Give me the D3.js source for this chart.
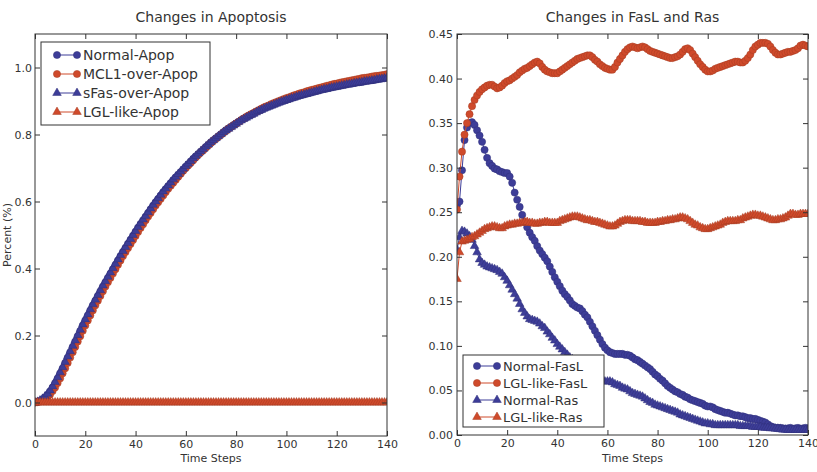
<!DOCTYPE html>
<html>
<head>
<meta charset="utf-8">
<script src="https://cdnjs.cloudflare.com/ajax/libs/d3/7.8.5/d3.min.js"></script>
<style>
body { margin: 0; background: #fff; }
svg { font-family: "DejaVu Sans", sans-serif; }
</style>
</head>
<body>
<svg class="chartSvg" width="817" height="472"></svg>
<script>
// time axis, one value per step
var timeSteps = d3.range(0, 141);
var xTicks = [0, 20, 40, 60, 80, 100, 120, 140];
var apopTicks = [0.0, 0.2, 0.4, 0.6, 0.8, 1.0];
var fasTicks = [0.00, 0.05, 0.10, 0.15, 0.20, 0.25, 0.30, 0.35, 0.40, 0.45];

// left panel: apoptosis
var normalApop = [0.000,0.002,0.005,0.009,0.015,0.023,0.033,0.045,0.058,0.072,
    0.087,0.102,0.118,0.134,0.150,0.166,0.182,0.198,0.214,0.230,
    0.245,0.260,0.275,0.290,0.304,0.318,0.332,0.346,0.359,0.372,
    0.385,0.398,0.411,0.424,0.437,0.450,0.462,0.474,0.486,0.498,
    0.510,0.522,0.533,0.544,0.555,0.566,0.577,0.588,0.598,0.608,
    0.618,0.628,0.637,0.646,0.655,0.664,0.672,0.680,0.688,0.696,
    0.704,0.712,0.720,0.728,0.735,0.742,0.749,0.756,0.763,0.770,
    0.777,0.783,0.789,0.795,0.801,0.807,0.813,0.818,0.823,0.828,
    0.833,0.838,0.843,0.847,0.851,0.855,0.859,0.863,0.867,0.871,
    0.874,0.878,0.881,0.884,0.887,0.890,0.893,0.896,0.899,0.901,
    0.904,0.906,0.909,0.911,0.914,0.916,0.918,0.920,0.922,0.924,
    0.926,0.928,0.930,0.932,0.934,0.936,0.937,0.939,0.941,0.942,
    0.944,0.945,0.947,0.948,0.950,0.951,0.952,0.954,0.955,0.956,
    0.957,0.959,0.960,0.961,0.962,0.963,0.965,0.966,0.967,0.968,
    0.970];
var mcl1Apop = [0.000,0.001,0.003,0.006,0.010,0.016,0.024,0.034,0.045,0.058,
    0.072,0.087,0.102,0.118,0.134,0.150,0.166,0.182,0.198,0.214,
    0.230,0.245,0.260,0.275,0.290,0.304,0.318,0.332,0.346,0.359,
    0.372,0.385,0.398,0.411,0.424,0.437,0.449,0.461,0.473,0.485,
    0.497,0.509,0.521,0.532,0.544,0.555,0.566,0.577,0.588,0.598,
    0.608,0.618,0.628,0.638,0.647,0.656,0.665,0.674,0.683,0.692,
    0.700,0.708,0.716,0.724,0.732,0.740,0.747,0.754,0.761,0.768,
    0.775,0.782,0.788,0.794,0.800,0.806,0.812,0.818,0.823,0.828,
    0.833,0.838,0.843,0.848,0.853,0.857,0.861,0.865,0.869,0.873,
    0.877,0.881,0.884,0.887,0.891,0.894,0.897,0.900,0.903,0.906,
    0.909,0.911,0.914,0.917,0.919,0.922,0.924,0.926,0.929,0.931,
    0.933,0.935,0.937,0.939,0.941,0.943,0.945,0.947,0.949,0.951,
    0.952,0.954,0.956,0.957,0.959,0.960,0.962,0.963,0.965,0.966,
    0.968,0.969,0.970,0.971,0.973,0.974,0.975,0.976,0.977,0.978,
    0.980];
var sfasApop = [0.000,0.002,0.006,0.011,0.018,0.026,0.036,0.048,0.061,0.075,
    0.090,0.105,0.121,0.137,0.153,0.169,0.185,0.201,0.217,0.233,
    0.248,0.263,0.278,0.293,0.307,0.321,0.335,0.349,0.362,0.375,
    0.388,0.401,0.414,0.427,0.440,0.452,0.464,0.476,0.488,0.500,
    0.512,0.524,0.535,0.546,0.557,0.568,0.579,0.590,0.600,0.610,
    0.620,0.630,0.639,0.648,0.657,0.666,0.674,0.682,0.690,0.698,
    0.706,0.713,0.721,0.729,0.736,0.743,0.750,0.757,0.764,0.770,
    0.777,0.783,0.789,0.795,0.801,0.807,0.812,0.817,0.822,0.827,
    0.832,0.837,0.842,0.846,0.850,0.854,0.858,0.862,0.866,0.870,
    0.873,0.877,0.880,0.883,0.886,0.889,0.892,0.895,0.898,0.900,
    0.903,0.905,0.908,0.910,0.913,0.915,0.917,0.919,0.921,0.923,
    0.925,0.927,0.929,0.931,0.933,0.935,0.936,0.938,0.940,0.941,
    0.943,0.944,0.946,0.947,0.949,0.950,0.951,0.953,0.954,0.955,
    0.956,0.958,0.959,0.960,0.961,0.962,0.964,0.965,0.966,0.967,
    0.969];
var lglApop = [0,0,0,0,0,0,0,0,0,0, 0,0,0,0,0,0,0,0,0,0, 0,0,0,0,0,0,0,0,0,0,
    0,0,0,0,0,0,0,0,0,0, 0,0,0,0,0,0,0,0,0,0, 0,0,0,0,0,0,0,0,0,0,
    0,0,0,0,0,0,0,0,0,0, 0,0,0,0,0,0,0,0,0,0, 0,0,0,0,0,0,0,0,0,0,
    0,0,0,0,0,0,0,0,0,0, 0,0,0,0,0,0,0,0,0,0, 0,0,0,0,0,0,0,0,0,0,
    0,0,0,0,0,0,0,0,0,0, 0,0,0,0,0,0,0,0,0,0, 0];

// right panel: FasL and Ras
var normalFasL = [0.258,0.262,0.297,0.331,0.345,0.350,0.351,0.348,0.342,0.336,
    0.329,0.320,0.311,0.305,0.302,0.299,0.298,0.296,0.295,0.294,
    0.294,0.290,0.283,0.272,0.264,0.256,0.247,0.239,0.233,0.227,
    0.222,0.218,0.212,0.207,0.203,0.199,0.195,0.189,0.183,0.177,
    0.172,0.167,0.162,0.158,0.155,0.151,0.147,0.145,0.143,0.142,
    0.139,0.135,0.132,0.127,0.122,0.117,0.112,0.107,0.102,0.098,
    0.095,0.093,0.092,0.091,0.091,0.091,0.091,0.090,0.090,0.089,
    0.087,0.085,0.084,0.082,0.080,0.078,0.076,0.074,0.071,0.068,
    0.066,0.063,0.061,0.058,0.055,0.053,0.051,0.049,0.048,0.046,
    0.045,0.043,0.042,0.040,0.039,0.038,0.037,0.036,0.035,0.033,
    0.032,0.032,0.031,0.029,0.028,0.027,0.026,0.025,0.025,0.024,
    0.023,0.022,0.022,0.021,0.021,0.020,0.019,0.019,0.018,0.018,
    0.017,0.016,0.015,0.014,0.012,0.010,0.009,0.008,0.008,0.008,
    0.0075,0.007,0.0075,0.008,0.007,0.0075,0.008,0.007,0.0075,0.008,
    0.0075];
var lglFasL = [0.253,0.290,0.318,0.337,0.350,0.360,0.369,0.376,0.381,0.385,
    0.388,0.390,0.392,0.393,0.393,0.391,0.389,0.390,0.392,0.395,
    0.397,0.398,0.400,0.402,0.404,0.407,0.409,0.411,0.412,0.414,
    0.416,0.418,0.419,0.417,0.413,0.410,0.408,0.407,0.406,0.406,
    0.406,0.408,0.410,0.412,0.414,0.416,0.418,0.420,0.422,0.423,
    0.424,0.425,0.426,0.426,0.424,0.421,0.419,0.416,0.414,0.412,
    0.411,0.410,0.410,0.413,0.418,0.422,0.426,0.430,0.433,0.435,
    0.436,0.435,0.434,0.435,0.436,0.435,0.433,0.431,0.430,0.429,
    0.428,0.427,0.426,0.425,0.424,0.423,0.423,0.424,0.425,0.427,
    0.430,0.433,0.434,0.432,0.428,0.424,0.420,0.416,0.413,0.410,
    0.408,0.408,0.409,0.411,0.412,0.413,0.414,0.415,0.416,0.417,
    0.418,0.419,0.419,0.418,0.418,0.420,0.423,0.427,0.432,0.436,
    0.438,0.440,0.440,0.440,0.439,0.436,0.432,0.429,0.427,0.427,
    0.428,0.429,0.430,0.430,0.431,0.432,0.434,0.437,0.438,0.437,
    0.436];
var normalRas = [0.208,0.222,0.229,0.228,0.226,0.223,0.219,0.212,0.205,0.197,
    0.193,0.191,0.189,0.188,0.187,0.186,0.185,0.183,0.181,0.177,
    0.173,0.168,0.163,0.158,0.153,0.147,0.141,0.137,0.133,0.130,
    0.129,0.128,0.127,0.125,0.122,0.120,0.116,0.113,0.109,0.106,
    0.102,0.099,0.096,0.093,0.090,0.087,0.085,0.082,0.080,0.077,
    0.075,0.073,0.071,0.069,0.067,0.065,0.063,0.061,0.060,0.060,
    0.060,0.060,0.059,0.057,0.056,0.055,0.053,0.052,0.051,0.049,
    0.047,0.046,0.045,0.044,0.043,0.041,0.039,0.037,0.036,0.034,
    0.033,0.032,0.031,0.030,0.029,0.028,0.027,0.026,0.025,0.023,
    0.022,0.021,0.020,0.019,0.018,0.017,0.016,0.015,0.014,0.013,
    0.013,0.012,0.012,0.011,0.011,0.011,0.011,0.011,0.011,0.011,
    0.011,0.011,0.011,0.010,0.010,0.010,0.010,0.010,0.009,0.009,
    0.009,0.009,0.008,0.008,0.008,0.0075,0.0075,0.007,0.007,0.0065,
    0.006,0.006,0.0056,0.0056,0.0056,0.0056,0.0056,0.0056,0.0056,0.0056,
    0.0056];
var lglRas = [0.175,0.205,0.217,0.218,0.219,0.220,0.222,0.223,0.225,0.227,
    0.229,0.231,0.232,0.233,0.234,0.234,0.233,0.232,0.232,0.234,
    0.235,0.236,0.236,0.237,0.237,0.238,0.238,0.239,0.239,0.238,
    0.238,0.237,0.237,0.238,0.238,0.239,0.239,0.238,0.238,0.238,
    0.238,0.240,0.241,0.242,0.243,0.244,0.245,0.245,0.245,0.244,
    0.243,0.242,0.241,0.241,0.240,0.239,0.239,0.238,0.237,0.236,
    0.235,0.234,0.234,0.235,0.237,0.239,0.240,0.241,0.241,0.241,
    0.240,0.240,0.240,0.240,0.239,0.239,0.238,0.238,0.238,0.238,
    0.239,0.239,0.240,0.240,0.241,0.241,0.242,0.242,0.243,0.244,
    0.244,0.243,0.242,0.240,0.238,0.236,0.235,0.233,0.232,0.231,
    0.231,0.232,0.233,0.234,0.235,0.236,0.238,0.239,0.240,0.240,
    0.240,0.240,0.241,0.241,0.243,0.244,0.245,0.246,0.247,0.247,
    0.246,0.246,0.245,0.244,0.243,0.242,0.241,0.241,0.242,0.242,
    0.243,0.244,0.246,0.248,0.248,0.247,0.247,0.248,0.248,0.248,
    0.248];

var blue = "#3d3d98", red = "#cf4a2b";
var textColor = "#333";

var svg = d3.select(".chartSvg");

drawPanel({
    id: "apop",
    left: 35, right: 387, top: 34, bottom: 436,
    yDomain: [-0.1, 1.1], yTicks: apopTicks, yFormat: d3.format(".1f"), yPad: 3,
    title: "Changes in Apoptosis", ylabel: "Percent (%)",
    series: [
        {name: "Normal-Apop", values: normalApop, color: blue, shape: "circle"},
        {name: "MCL1-over-Apop", values: mcl1Apop, color: red, shape: "circle"},
        {name: "sFas-over-Apop", values: sfasApop, color: blue, shape: "triangle"},
        {name: "LGL-like-Apop", values: lglApop, color: red, shape: "triangle"}
    ],
    legend: {x: 41, y: 42, w: 169, h: 83, rowY: 13, rowH: 19, m0: 16, m1: 36, tx: 42, fontSize: 14}
});

drawPanel({
    id: "fas",
    left: 457, right: 808, top: 34, bottom: 435,
    yDomain: [0, 0.45], yTicks: fasTicks, yFormat: d3.format(".2f"), yPad: 4,
    title: "Changes in FasL and Ras", ylabel: null,
    series: [
        {name: "Normal-FasL", values: normalFasL, color: blue, shape: "circle"},
        {name: "LGL-like-FasL", values: lglFasL, color: red, shape: "circle"},
        {name: "Normal-Ras", values: normalRas, color: blue, shape: "triangle"},
        {name: "LGL-like-Ras", values: lglRas, color: red, shape: "triangle"}
    ],
    legend: {x: 463, y: 355, w: 141, h: 72, rowY: 11, rowH: 17, m0: 14, m1: 34, tx: 40, fontSize: 13}
});

function drawMarker(sel, shape, color) {
    if (shape == "circle") {
        return sel.append("circle").attr("r", 3.6)
            .attr("fill", color).attr("stroke", d3.color(color).darker(0.6)).attr("stroke-width", 0.5);
    }
    return sel.append("path")
        .attr("d", d3.symbol(d3.symbolTriangle).size(32))
        .attr("fill", color).attr("stroke", d3.color(color).darker(0.6)).attr("stroke-width", 0.5);
}

function drawPanel(p) {
    var x = d3.scaleLinear().domain([0, 140]).range([p.left, p.right]);
    var y = d3.scaleLinear().domain(p.yDomain).range([p.bottom, p.top]);

    var g = svg.append("g");

    g.append("clipPath").attr("id", "clip-" + p.id)
        .append("rect")
        .attr("x", p.left).attr("y", p.top)
        .attr("width", p.right - p.left).attr("height", p.bottom - p.top);

    var plot = g.append("g").attr("clip-path", "url(#clip-" + p.id + ")");

    var line = d3.line()
        .x(function(d, i) { return x(timeSteps[i]); })
        .y(function(d) { return y(d); });

    p.series.forEach(function(s) {
        var sg = plot.append("g").attr("class", "series");
        sg.append("path")
            .attr("d", line(s.values))
            .attr("fill", "none")
            .attr("stroke", s.color)
            .attr("stroke-width", 1);
        var pts = sg.selectAll(".pt")
            .data(s.values)
            .enter().append("g")
            .attr("class", "pt")
            .attr("transform", function(d, i) { return "translate(" + x(timeSteps[i]) + "," + y(d) + ")"; });
        drawMarker(pts, s.shape, s.color);
    });

    // axes, ticks pointing inwards on all four sides
    var bottomAxis = g.append("g")
        .attr("transform", "translate(0," + p.bottom + ")")
        .call(d3.axisBottom(x).tickValues(xTicks).tickSizeInner(-5).tickSizeOuter(0).tickPadding(4).tickFormat(d3.format("d")));
    var leftAxis = g.append("g")
        .attr("transform", "translate(" + p.left + ",0)")
        .call(d3.axisLeft(y).tickValues(p.yTicks).tickSizeInner(-5).tickSizeOuter(0).tickPadding(p.yPad).tickFormat(p.yFormat));
    var topAxis = g.append("g")
        .attr("transform", "translate(0," + p.top + ")")
        .call(d3.axisTop(x).tickValues(xTicks).tickSizeInner(-5).tickSizeOuter(0).tickFormat(""));
    var rightAxis = g.append("g")
        .attr("transform", "translate(" + p.right + ",0)")
        .call(d3.axisRight(y).tickValues(p.yTicks).tickSizeInner(-5).tickSizeOuter(0).tickFormat(""));

    [bottomAxis, leftAxis, topAxis, rightAxis].forEach(function(a) {
        a.select(".domain").remove();
        a.selectAll(".tick line").attr("stroke", "#333");
        a.selectAll("text").attr("fill", textColor).style("font-size", "11px").style("font-family", "DejaVu Sans");
    });

    g.append("rect")
        .attr("x", p.left).attr("y", p.top)
        .attr("width", p.right - p.left).attr("height", p.bottom - p.top)
        .attr("fill", "none").attr("stroke", "#333").attr("stroke-width", 1);

    // titles
    g.append("text")
        .attr("x", (p.left + p.right) / 2).attr("y", 22)
        .attr("text-anchor", "middle")
        .attr("fill", textColor)
        .style("font-size", "14px")
        .text(p.title);
    g.append("text")
        .attr("x", (p.left + p.right) / 2).attr("y", 462)
        .attr("text-anchor", "middle")
        .attr("fill", textColor)
        .style("font-size", "11px")
        .text("Time Steps");
    if (p.ylabel) {
        g.append("text")
            .attr("transform", "translate(11," + ((p.top + p.bottom) / 2) + ") rotate(-90)")
            .attr("text-anchor", "middle")
            .attr("fill", textColor)
            .style("font-size", "11px")
            .text(p.ylabel);
    }

    // legend
    var L = p.legend;
    var lg = g.append("g").attr("transform", "translate(" + L.x + "," + L.y + ")");
    lg.append("rect")
        .attr("width", L.w).attr("height", L.h)
        .attr("fill", "#fff").attr("stroke", "#333").attr("stroke-width", 1);
    var rows = lg.selectAll(".lineLegend")
        .data(p.series)
        .enter().append("g")
        .attr("class", "lineLegend")
        .attr("transform", function(d, i) { return "translate(0," + (L.rowY + i * L.rowH) + ")"; });
    rows.append("line")
        .attr("x1", L.m0).attr("x2", L.m1)
        .attr("stroke", function(d) { return d.color; })
        .attr("stroke-width", 1);
    rows.each(function(d) {
        var r = d3.select(this);
        [L.m0, L.m1].forEach(function(mx) {
            drawMarker(r.append("g").attr("transform", "translate(" + mx + ",0)"), d.shape, d.color);
        });
    });
    rows.append("text")
        .attr("x", L.tx).attr("dy", "0.36em")
        .attr("fill", textColor)
        .style("font-size", L.fontSize + "px")
        .text(function(d) { return d.name; });
}
</script>
</body>
</html>
